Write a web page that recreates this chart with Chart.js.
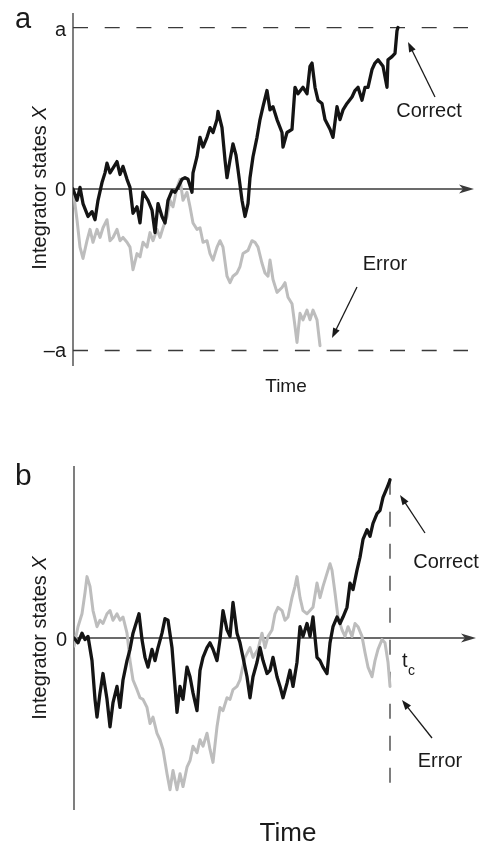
<!DOCTYPE html>
<html>
<head>
<meta charset="utf-8">
<script src="https://cdn.jsdelivr.net/npm/chart.js@4.4.1/dist/chart.umd.min.js"></script>
<style>
  html, body { margin: 0; padding: 0; background: #fff; }
  #wrap { position: relative; width: 486px; height: 845px; overflow: hidden; }
  canvas { position: absolute; left: 0; }
  #chartA { top: 0; }
  #chartB { top: 430px; }
</style>
</head>
<body>
<div id="wrap">
  <canvas id="chartA" width="486" height="400" style="width:486px;height:400px"></canvas>
  <canvas id="chartB" width="486" height="415" style="width:486px;height:415px"></canvas>
</div>
<script>
// Panel a: integrator paths until the correct one reaches the bound a (=100)
const aCorrectT = [0,4,7,10,15,19,22,25,29,32, 34,37,40,44,47,50,54,57,60,64,
  67,70,75,79,82,85,89,92,95,99, 102,105,109,112,115,119,120,124,127,130,
  134,137,140,144,145,149,152,154,157,160, 163,165,169,172,175,177,180,184,187,190,
  194,197,200,204,209,210,214,219,222,225, 230,234,237,239,242,245,249,252,257,260,
  264,267,270,274,279,282,285,289,292,295, 299,302,305,310,314,315,319,322,324,325];
const aCorrectX = [0,-7,1,-9,-17,-14,-19,-7,4,10, 16,10,13,17,9,14,6,1,-15,-11,
  -21,-2,-7,-13,-27,-9,-17,-21,-7,-1, -2,1,6,7,6,-2,10,20,32,26,
  32,38,35,43,48,38,18,7,18,28, 21,12,-7,-17,-9,7,20,32,43,51,
  61,49,51,43,35,26,35,37,63,59, 63,59,76,78,63,55,53,43,37,32,
  51,43,49,53,57,61,63,55,63,63, 74,78,80,76,63,80,82,84,98,100];
const aErrorT = [0,4,7,10,14,17,20,24,27,30, 34,37,40,44,47,50,54,57,60,64,
  67,70,74,77,80,84,87,90,94,97, 100,104,107,110,114,117,120,124,127,130,
  134,137,140,144,147,150,154,157,160,164, 167,170,175,179,182,185,189,192,195,197,
  200,204,209,212,215,219,222,224,227,230, 234,237,240,244,247];
const aErrorX = [0,-19,-36,-43,-32,-25,-33,-25,-30,-24, -19,-32,-30,-25,-32,-30,-33,-36,-50,-40,
  -42,-33,-36,-27,-32,-25,-30,-24,-17,-7, -11,1,6,-7,-2,-11,-21,-25,-24,-33,
  -32,-40,-44,-36,-32,-36,-54,-58,-54,-52, -48,-40,-38,-32,-33,-36,-46,-52,-54,-44,
  -56,-64,-61,-58,-67,-71,-85,-95,-77,-81, -75,-81,-75,-81,-97];
const aBound = 100;
const aTickLabels = ['a', '0', '\u2013a'];

// Panel b: both paths compared at the fixed time t_c
const bCorrectT = [0,4,8,11,14,18,21,23,26,29, 33,36,39,43,46,49,53,56,59,63,
  65,68,71,74,78,81,84,88,91,94, 98,101,103,106,109,113,116,119,123,126,
  129,133,136,139,143,146,149,153,156,159, 163,166,169,173,176,179,183,186,189,193,
  196,199,203,206,209,213,216,219,223,226, 229,233,236,239,243,246,249,253,256,259,
  263,266,269,273,276,279,283,286,289,293, 296,299,303,306,309,313,315,316];
const bCorrectX = [0,-3,3,-1,1,-14,-38,-49,-34,-22, -38,-55,-40,-30,-43,-26,-14,-7,3,11,
  15,-1,-12,-18,-7,-14,-6,3,12,11, -6,-30,-46,-30,-38,-18,-24,-34,-45,-20,
  -12,-6,-3,-7,-14,-1,17,5,1,22, 3,-3,-12,-24,-37,-24,-15,-6,-14,-22,
  -20,-12,-24,-30,-37,-28,-20,-30,-15,7, 1,9,1,13,-12,-14,-18,-22,-3,7,
  13,9,13,19,34,30,42,50,61,67, 63,71,77,79,87,93,96,98];
const bErrorT = [0,4,8,11,13,16,19,23,26,29, 33,36,39,43,46,49,53,56,59,63,
  66,69,73,76,79,83,86,89,93,96, 99,103,106,109,113,116,119,123,126,129,
  133,136,139,143,146,149,153,156,159,163, 166,168,171,176,179,184,188,191,194,198,
  201,204,208,211,214,218,221,223,226,229, 233,236,239,243,246,249,253,256,258,261,
  264,268,271,274,278,281,284,288,291,294, 298,301,304,308,311,314,316];
const bErrorX = [-5,7,15,28,38,32,17,7,11,9, 15,17,11,15,11,13,3,-14,-26,-32,
  -37,-38,-43,-53,-49,-59,-63,-69,-84,-94, -82,-94,-84,-92,-80,-76,-67,-71,-63,-67,
  -59,-69,-77,-55,-43,-45,-37,-38,-32,-30, -26,-20,-12,-6,-12,-7,3,-6,1,5,
  15,19,17,11,13,25,32,38,25,17, 15,17,19,34,25,32,40,46,42,28,
  13,5,1,7,1,9,7,1,-9,-18, -24,-14,-7,-1,-3,-15,-30];
const bTc = 316;
const bTcTop = 98;
const bTcBottom = -100;

const FONT = '"Liberation Sans", Arial, Helvetica, sans-serif';
const AXIS_COLOR = '#3a3a3a';
const CORRECT_COLOR = '#141414';
const ERROR_COLOR = '#bdbdbd';

function pts(ts, xs) { return ts.map((t, i) => ({ x: t, y: xs[i] })); }

function axisArrow(ctx, x, y) {
  ctx.beginPath();
  ctx.moveTo(x, y);
  ctx.lineTo(x - 15, y - 4.5);
  ctx.lineTo(x - 11, y);
  ctx.lineTo(x - 15, y + 4.5);
  ctx.closePath();
  ctx.fill();
}

function pointer(ctx, x0, y0, x1, y1) {
  const ang = Math.atan2(y1 - y0, x1 - x0);
  const len = 10, half = 3.6;
  ctx.beginPath();
  ctx.moveTo(x0, y0);
  ctx.lineTo(x1 - Math.cos(ang) * (len - 2), y1 - Math.sin(ang) * (len - 2));
  ctx.stroke();
  ctx.beginPath();
  ctx.moveTo(x1, y1);
  ctx.lineTo(x1 - Math.cos(ang) * len + Math.sin(ang) * half, y1 - Math.sin(ang) * len - Math.cos(ang) * half);
  ctx.lineTo(x1 - Math.cos(ang) * len - Math.sin(ang) * half, y1 - Math.sin(ang) * len + Math.cos(ang) * half);
  ctx.closePath();
  ctx.fill();
}

function yTitle(ctx, cx, cy, size) {
  ctx.save();
  ctx.translate(cx, cy);
  ctx.rotate(-Math.PI / 2);
  const f1 = size + 'px ' + FONT, f2 = 'italic ' + size + 'px ' + FONT;
  const s1 = 'Integrator states ', s2 = 'X';
  ctx.font = f1; const w1 = ctx.measureText(s1).width;
  ctx.font = f2; const w2 = ctx.measureText(s2).width;
  const start = -(w1 + w2) / 2;
  ctx.textBaseline = 'middle';
  ctx.textAlign = 'left';
  ctx.font = f1; ctx.fillText(s1, start, 0);
  ctx.font = f2; ctx.fillText(s2, start + w1, 0);
  ctx.restore();
}

function text(ctx, s, x, y, size, align) {
  ctx.font = size + 'px ' + FONT;
  ctx.textAlign = align || 'center';
  ctx.textBaseline = 'alphabetic';
  ctx.fillText(s, x, y);
}

const axesA = {
  id: 'axesA',
  beforeDatasetsDraw(chart) {
    const { ctx, chartArea: ca, scales: { x, y } } = chart;
    const y0 = y.getPixelForValue(0);
    ctx.save();
    ctx.strokeStyle = AXIS_COLOR; ctx.fillStyle = AXIS_COLOR;
    ctx.lineWidth = 1.3;
    // vertical axis
    ctx.beginPath(); ctx.moveTo(ca.left, ca.top); ctx.lineTo(ca.left, ca.bottom); ctx.stroke();
    // time axis with arrow
    ctx.beginPath(); ctx.moveTo(ca.left, y0); ctx.lineTo(ca.right - 10, y0); ctx.stroke();
    axisArrow(ctx, ca.right, y0);
    // bounds +a and -a
    ctx.setLineDash([15, 16.7]);
    [aBound, -aBound].forEach(v => {
      const py = y.getPixelForValue(v);
      ctx.beginPath(); ctx.moveTo(ca.left, py); ctx.lineTo(x.getPixelForValue(395), py); ctx.stroke();
    });
    ctx.restore();
  },
  afterDatasetsDraw(chart) {
    const { ctx, scales: { y } } = chart;
    ctx.save();
    ctx.fillStyle = '#1a1a1a'; ctx.strokeStyle = '#1a1a1a'; ctx.lineWidth = 1.3;
    text(ctx, 'a', 15, 28, 29, 'left');
    text(ctx, aTickLabels[0], 66, y.getPixelForValue(aBound) + 8, 20, 'right');
    text(ctx, aTickLabels[1], 66, y.getPixelForValue(0) + 7, 20, 'right');
    text(ctx, aTickLabels[2], 66, y.getPixelForValue(-aBound) + 7, 20, 'right');
    yTitle(ctx, 40, 188, 20);
    text(ctx, 'Time', 286, 392, 19, 'center');
    text(ctx, 'Correct', 429, 117, 20, 'center');
    text(ctx, 'Error', 385, 270, 20, 'center');
    pointer(ctx, 435, 97, 408, 42);
    pointer(ctx, 357, 287, 332, 338);
    ctx.restore();
  }
};

const axesB = {
  id: 'axesB',
  beforeDatasetsDraw(chart) {
    const { ctx, chartArea: ca, scales: { x, y } } = chart;
    const y0 = y.getPixelForValue(0);
    ctx.save();
    ctx.strokeStyle = AXIS_COLOR; ctx.fillStyle = AXIS_COLOR;
    ctx.lineWidth = 1.3;
    ctx.beginPath(); ctx.moveTo(ca.left, ca.top); ctx.lineTo(ca.left, ca.bottom); ctx.stroke();
    ctx.beginPath(); ctx.moveTo(ca.left, y0); ctx.lineTo(ca.right - 10, y0); ctx.stroke();
    axisArrow(ctx, ca.right, y0);
    // decision time t_c
    const px = x.getPixelForValue(bTc);
    ctx.setLineDash([15, 17]);
    ctx.beginPath(); ctx.moveTo(px, y.getPixelForValue(bTcTop)); ctx.lineTo(px, y.getPixelForValue(bTcBottom)); ctx.stroke();
    ctx.restore();
  },
  afterDatasetsDraw(chart) {
    const { ctx, scales: { y } } = chart;
    ctx.save();
    ctx.fillStyle = '#1a1a1a'; ctx.strokeStyle = '#1a1a1a'; ctx.lineWidth = 1.3;
    text(ctx, 'b', 15, 55, 30, 'left');
    text(ctx, '0', 67, y.getPixelForValue(0) + 8, 20, 'right');
    yTitle(ctx, 40, 208, 20);
    text(ctx, 't', 402, 237, 20, 'left');
    text(ctx, 'c', 408, 245, 14, 'left');
    text(ctx, 'Time', 288, 411, 26, 'center');
    text(ctx, 'Correct', 446, 138, 20, 'center');
    text(ctx, 'Error', 440, 337, 20, 'center');
    pointer(ctx, 425, 103, 400, 65);
    pointer(ctx, 432, 308, 402, 270);
    ctx.restore();
  }
};

function lineSet(data, color, width) {
  return {
    data, borderColor: color, borderWidth: width, pointRadius: 0,
    tension: 0, fill: false, borderJoinStyle: 'round', borderCapStyle: 'round'
  };
}

function baseOptions(pad, xMax, yMin, yMax) {
  return {
    responsive: false, animation: false, devicePixelRatio: 1,
    layout: { padding: pad },
    plugins: { legend: { display: false }, tooltip: { enabled: false } },
    events: [],
    scales: {
      x: { type: 'linear', min: 0, max: xMax, display: false },
      y: { type: 'linear', min: yMin, max: yMax, display: false }
    }
  };
}

new Chart(document.getElementById('chartA'), {
  type: 'line',
  data: { datasets: [ lineSet(pts(aCorrectT, aCorrectX), CORRECT_COLOR, 3.3), lineSet(pts(aErrorT, aErrorX), ERROR_COLOR, 3) ] },
  options: baseOptions({ left: 73, right: 12, top: 13, bottom: 34 }, 401, -109.6, 109),
  plugins: [axesA]
});

new Chart(document.getElementById('chartB'), {
  type: 'line',
  data: { datasets: [ lineSet(pts(bCorrectT, bCorrectX), CORRECT_COLOR, 3.3), lineSet(pts(bErrorT, bErrorX), ERROR_COLOR, 3) ] },
  options: baseOptions({ left: 74, right: 10, top: 36, bottom: 35 }, 402, -106.5, 106.5),
  plugins: [axesB]
});
</script>
</body>
</html>
